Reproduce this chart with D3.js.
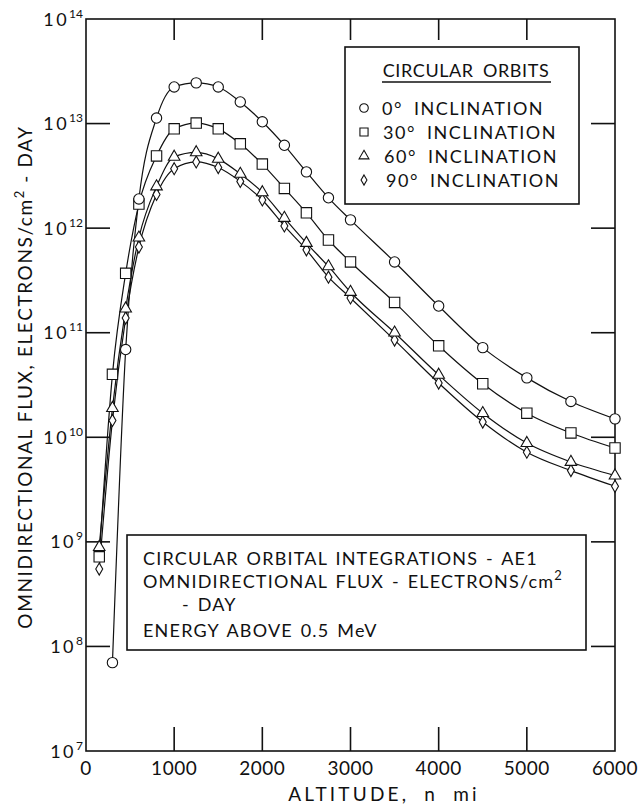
<!DOCTYPE html>
<html><head><meta charset="utf-8">
<script src="https://cdn.jsdelivr.net/npm/d3@7"></script>
<style>
html,body{margin:0;padding:0;background:#fff;}
svg{display:block;font-family:"Lato","Liberation Sans",sans-serif;}
</style></head><body>
<svg id="chart" width="638" height="808"></svg>
<script>
// Altitudes (n mi) at which the orbital integrations were evaluated
const altitudes = [150, 300, 450, 600, 800, 1000, 1250, 1500, 1750, 2000, 2250, 2500, 2750, 3000, 3500, 4000, 4500, 5000, 5500, 6000];
// Omnidirectional flux, electrons/cm^2-day, E > 0.5 MeV
const flux0  = [null, 7e7, 6.9e10, 1.9e12, 1.13e13, 2.24e13, 2.45e13, 2.24e13, 1.61e13, 1.04e13, 6.2e12, 3.45e12, 1.95e12, 1.2e12, 4.75e11, 1.8e11, 7.2e10, 3.7e10, 2.2e10, 1.5e10];
const flux30 = [7.2e8, 4.0e10, 3.7e11, 1.7e12, 4.9e12, 8.9e12, 1.01e13, 8.9e12, 6.4e12, 4.1e12, 2.4e12, 1.4e12, 7.7e11, 4.75e11, 1.95e11, 7.5e10, 3.25e10, 1.7e10, 1.1e10, 7.9e9];
const flux60 = [8.9e8, 1.9e10, 1.7e11, 8.1e11, 2.5e12, 4.8e12, 5.3e12, 4.6e12, 3.3e12, 2.2e12, 1.25e12, 7.2e11, 4.3e11, 2.45e11, 1.0e11, 3.95e10, 1.7e10, 8.8e9, 5.8e9, 4.3e9];
const flux90 = [5.5e8, 1.45e10, 1.38e11, 6.6e11, 2.1e12, 3.7e12, 4.3e12, 3.8e12, 2.8e12, 1.86e12, 1.05e12, 6.2e11, 3.4e11, 2.15e11, 8.5e10, 3.3e10, 1.4e10, 7.2e9, 4.8e9, 3.4e9];

const seriesNames = ["0° INCLINATION", "30° INCLINATION", "60° INCLINATION", "90° INCLINATION"];
const xTicks = [0, 1000, 2000, 3000, 4000, 5000, 6000];
const yExponents = [7, 8, 9, 10, 11, 12, 13, 14];
const legendTitle = "CIRCULAR ORBITS";
const noteLines = ["CIRCULAR ORBITAL INTEGRATIONS - AE1", "OMNIDIRECTIONAL FLUX - ELECTRONS/cm", "- DAY", "ENERGY ABOVE 0.5 MeV"];

const svg = d3.select("#chart");
const plotL = 86, plotR = 615, plotT = 19, plotB = 751;

const x = d3.scaleLinear().domain([0, 6000]).range([plotL, plotR]);
const y = d3.scaleLog().domain([1e7, 1e14]).range([plotB, plotT]);

const ink = "#111";
const tickLen = 24;

// Frame
svg.append("rect")
  .attr("x", plotL).attr("y", plotT)
  .attr("width", plotR - plotL).attr("height", plotB - plotT)
  .attr("fill", "none").attr("stroke", ink).attr("stroke-width", 1.6);

// Inward-pointing major ticks on all four sides
const yTickVals = yExponents.map(e => Math.pow(10, e)).filter(v => v > 1e7 && v < 1e14);
const xTickVals = xTicks.filter(v => v > 0 && v < 6000);
const g = svg.append("g").attr("stroke", ink).attr("stroke-width", 1.6);
yTickVals.forEach(v => {
  g.append("line").attr("x1", plotL).attr("x2", plotL + tickLen).attr("y1", y(v)).attr("y2", y(v));
  g.append("line").attr("x1", plotR).attr("x2", plotR - tickLen).attr("y1", y(v)).attr("y2", y(v));
});
xTickVals.forEach(v => {
  g.append("line").attr("x1", x(v)).attr("x2", x(v)).attr("y1", plotB).attr("y2", plotB - tickLen);
  g.append("line").attr("x1", x(v)).attr("x2", x(v)).attr("y1", plotT).attr("y2", plotT + 21);
});

// Y tick labels: 10 with superscript exponent
yExponents.forEach(e => {
  const t = svg.append("text")
    .attr("x", 83).attr("y", y(Math.pow(10, e)) + 6.5)
    .attr("text-anchor", "end").attr("fill", ink)
    .attr("font-size", 18);
  t.append("tspan").attr("letter-spacing", 2.5).text("10");
  t.append("tspan").attr("font-size", 12).attr("dy", -8).text(e);
});

// X tick labels
xTicks.forEach(v => {
  svg.append("text")
    .attr("x", x(v)).attr("y", 775)
    .attr("text-anchor", "middle").attr("fill", ink)
    .attr("font-size", 19).attr("letter-spacing", 0.5)
    .text(v);
});

// Axis titles
svg.append("text")
  .attr("x", 384).attr("y", 801)
  .attr("text-anchor", "middle").attr("fill", ink)
  .attr("font-size", 19).attr("letter-spacing", 3.2).attr("word-spacing", 7)
  .text("ALTITUDE, n mi");

const yl = svg.append("text")
  .attr("transform", "translate(32,377) rotate(-90)")
  .attr("text-anchor", "middle").attr("fill", ink)
  .attr("font-size", 19).attr("letter-spacing", 1.6);
yl.append("tspan").text("OMNIDIRECTIONAL FLUX, ELECTRONS/cm");
yl.append("tspan").attr("font-size", 13).attr("dy", -8).text("2");
yl.append("tspan").attr("dy", 8).text(" - DAY");

// Series
const series = [
  { name: seriesNames[3], values: flux90, symbol: d3.symbolDiamond, size: 42, lsize: 30 },
  { name: seriesNames[2], values: flux60, symbol: d3.symbolTriangle, size: 58, lsize: 42 },
  { name: seriesNames[1], values: flux30, symbol: d3.symbolSquare, size: 108, lsize: 66 },
  { name: seriesNames[0], values: flux0, symbol: d3.symbolCircle, size: 84, lsize: 58 }
];

const line = d3.line()
  .x(d => x(d[0])).y(d => y(d[1]))
  .curve(d3.curveMonotoneX);

series.forEach(s => {
  const pts = altitudes.map((a, i) => [a, s.values[i]]).filter(d => d[1] != null);
  svg.append("path").datum(pts)
    .attr("d", line)
    .attr("fill", "none").attr("stroke", ink).attr("stroke-width", 1.2);
});
series.forEach(s => {
  const pts = altitudes.map((a, i) => [a, s.values[i]]).filter(d => d[1] != null);
  svg.append("g").selectAll("path").data(pts).join("path")
    .attr("transform", d => `translate(${x(d[0])},${y(d[1])})`)
    .attr("d", d3.symbol().type(s.symbol).size(s.size))
    .attr("fill", "#fff").attr("stroke", ink).attr("stroke-width", 1.1);
});

// Legend box
svg.append("rect").attr("x", 345).attr("y", 47).attr("width", 234).attr("height", 157)
  .attr("fill", "#fff").attr("stroke", ink).attr("stroke-width", 1.6);
svg.append("text").attr("x", 466).attr("y", 77)
  .attr("text-anchor", "middle").attr("fill", ink)
  .attr("font-size", 18).attr("letter-spacing", 0.6).attr("word-spacing", 4)
  .text(legendTitle);
svg.append("line").attr("x1", 382).attr("x2", 551).attr("y1", 82).attr("y2", 82)
  .attr("stroke", ink).attr("stroke-width", 1.6);
const legendOrder = [series[3], series[2], series[1], series[0]];
const legendTextX = [382, 383, 384, 386];
legendOrder.forEach((s, i) => {
  const cy = 108 + i * 24;
  svg.append("path")
    .attr("transform", `translate(${364},${cy})`)
    .attr("d", d3.symbol().type(s.symbol).size(s.lsize))
    .attr("fill", "#fff").attr("stroke", ink).attr("stroke-width", 1.1);
  svg.append("text").attr("x", legendTextX[i]).attr("y", cy + 7)
    .attr("fill", ink).attr("font-size", 18)
    .attr("letter-spacing", 1.5).attr("word-spacing", 5)
    .text(s.name);
});

// Note box
svg.append("rect").attr("x", 127).attr("y", 535).attr("width", 459).attr("height", 115)
  .attr("fill", "#fff").attr("stroke", ink).attr("stroke-width", 1.6);
const noteY = [565, 588, 611, 637];
noteLines.forEach((t, i) => {
  const tx = svg.append("text").attr("x", i === 2 ? 182 : 143).attr("y", noteY[i])
    .attr("fill", ink).attr("font-size", 18)
    .attr("letter-spacing", 1.2).attr("word-spacing", 2);
  tx.append("tspan").text(t);
  if (i === 1) tx.append("tspan").attr("font-size", 13).attr("dy", -8).text("2");
});
</script>
</body></html>
